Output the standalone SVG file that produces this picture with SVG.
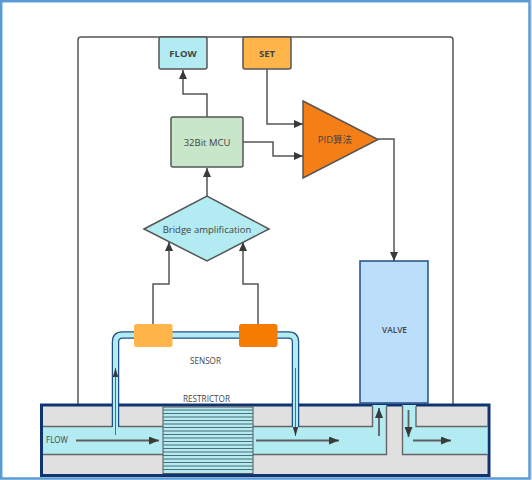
<svg xmlns="http://www.w3.org/2000/svg" width="532" height="480" viewBox="0 0 532 480">
<defs>
<marker id="a" markerUnits="userSpaceOnUse" markerWidth="9" markerHeight="8" refX="9" refY="4" orient="auto"><path d="M0 0L9 4L0 8Z" fill="#3a3a3a"/></marker>
<marker id="b" markerUnits="userSpaceOnUse" markerWidth="9" markerHeight="5.500" refX="9" refY="2.750" orient="auto"><path d="M0 0L9 2.750L0 5.500Z" fill="#3a3a3a"/></marker>
<marker id="f" markerUnits="userSpaceOnUse" markerWidth="10" markerHeight="8" refX="10" refY="4" orient="auto"><path d="M0 0L10 4L0 8Z" fill="#3a3a3a"/></marker>
</defs>
<style>
.c{fill:none;stroke:#555;stroke-width:1.5}
.ar{marker-end:url(#a)}
.fl{fill:none;stroke:#5f5f5f;stroke-width:1.8;marker-end:url(#f)}
.th{fill:none;stroke:#666;stroke-width:1;marker-end:url(#b)}
.n{stroke:#555;stroke-width:1.5}
text{font-family:"Open Sans","Noto Sans CJK SC",sans-serif;fill:#444;text-anchor:middle}
.s{font-size:9px}
.m{font-size:9.500px}
.h{font-size:9.500px;font-weight:700}
.wall{fill:none;stroke:#666;stroke-width:1.400}
line.st{stroke:#4f6d73;stroke-width:1.100}
</style>
<rect x="1.200" y="1.200" width="528.300" height="477.300" fill="#fff" stroke="#5b9bd5" stroke-width="2.500"/>
<rect x="531" y="0" width="1" height="480" fill="#d9d9d9"/>
<g id="connectors">
<path class="c" d="M78 404V40Q78 37 81 37H450Q453 37 453 40V404"/>
<path class="c ar" d="M207 117V94H183V70"/>
<path class="c ar" d="M207 196V168"/>
<path class="c ar" d="M267 69V124H303"/>
<path class="c ar" d="M243 142H273V156H303"/>
<path class="c ar" d="M378 139H394V261"/>
<path class="c ar" d="M153 324V284H169V242"/>
<path class="c ar" d="M258 324V284H243V242"/>
</g>
<g id="flow-block">
<rect x="41.500" y="405" width="447.500" height="70.500" fill="#e0e0e0" stroke="#0f3470" stroke-width="3"/>
<path d="M43 427H372.500V405H386.500V454H43Z" fill="#b2ebf2"/>
<path d="M402.500 405H416V427H487.500V454H402.500Z" fill="#b2ebf2"/>
<path class="wall" d="M43 426.500H112M119 426.500H292M299 426.500H372.500V406M386.500 406V454.500H43M402.500 406V454.500H487.500M416 406V426.500H487.500"/>
</g>
<g id="sensor-tube">
<path d="M115.500 427V342Q115.500 335 122.500 335H288.500Q295.500 335 295.500 342V427" fill="none" stroke="#1f4f86" stroke-width="7.500"/>
<path d="M115.500 433V342Q115.500 335 122.500 335H288.500Q295.500 335 295.500 342V433" fill="none" stroke="#b2ebf2" stroke-width="5"/>
</g>
<g id="restrictor">
<rect x="163" y="407" width="90" height="66.500" fill="#b2ebf2" stroke="#555" stroke-width="1"/>
<path d="M163 410H253M163 413.500H253M163 417H253M163 420.500H253M163 424H253M163 427.500H253M163 431H253M163 434.500H253M163 438H253M163 441.500H253M163 445H253M163 448.500H253M163 452H253M163 455.500H253M163 459H253M163 462.500H253M163 466H253M163 469.500H253" fill="none" stroke="#4f6d73" stroke-width="1.100"/>
</g>
<g id="flow-arrows">
<path class="fl" d="M76 440.500H159"/>
<path class="fl" d="M256 440.500H339"/>
<path class="fl" d="M413 440.500H451"/>
<path class="fl" d="M379 436V408"/>
<path class="fl" d="M408.500 410V437"/>
<path class="th" d="M115.500 435V368"/>
<path class="th" d="M295.500 368V436"/>
</g>
<g id="sensor-left"><rect x="134" y="324" width="38.500" height="23" rx="2.500" fill="#ffb54a"/></g>
<g id="sensor-right"><rect x="239" y="324" width="38.500" height="23" rx="2.500" fill="#f57c00"/></g>
<g id="flow"><rect x="159" y="37" width="48" height="32" rx="2" class="n" fill="#b2ebf2"/><text class="h" x="183" y="56.500">FLOW</text></g>
<g id="set"><rect x="243" y="37" width="48" height="32" rx="2" class="n" fill="#ffb54a"/><text class="h" x="267" y="56.500">SET</text></g>
<g id="mcu"><rect x="171" y="117" width="72" height="50" rx="2" class="n" fill="#c8e6c9"/><text class="m" x="207" y="146">32Bit MCU</text></g>
<g id="pid"><path d="M303 101L378 139.500L303 178Z" class="n" fill="#f57f17"/><text class="m" x="335" y="143">PID算法</text></g>
<g id="bridge"><path d="M144 229L207 196L269 229L207 261Z" class="n" fill="#b2ebf2"/><text class="m" x="207" y="232.500">Bridge amplification</text></g>
<g id="valve"><rect x="360" y="261" width="68" height="142" fill="#bbdefb" stroke="#1f4f86" stroke-width="1.500"/><text class="s" x="394.500" y="332.500" font-weight="600" textLength="25" lengthAdjust="spacingAndGlyphs">VALVE</text></g>
<text class="s" x="205.500" y="364" textLength="31" lengthAdjust="spacingAndGlyphs">SENSOR</text>
<text class="s" x="206.500" y="401.500" textLength="47" lengthAdjust="spacingAndGlyphs">RESTRICTOR</text>
<text class="s" x="57" y="443" textLength="22" lengthAdjust="spacingAndGlyphs">FLOW</text>
</svg>
